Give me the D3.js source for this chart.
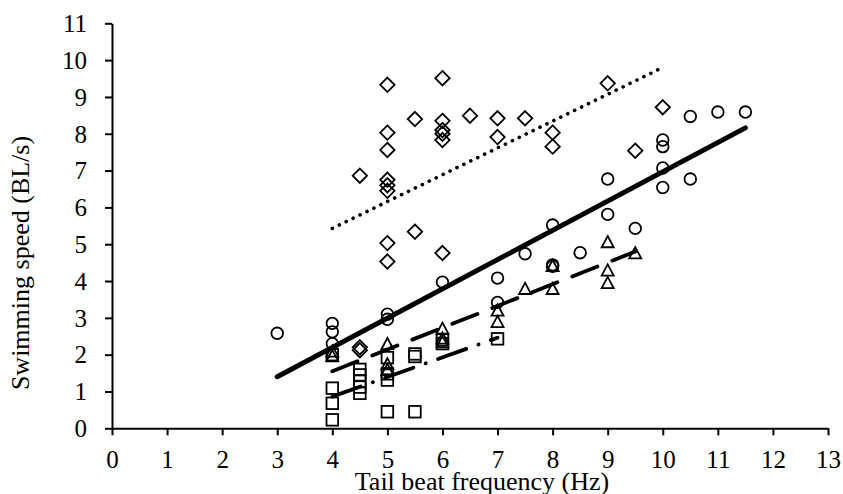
<!DOCTYPE html>
<html>
<head>
<meta charset="utf-8">
<script src="https://cdn.jsdelivr.net/npm/d3@7"></script>
<style>
  html, body { margin: 0; padding: 0; background: #fff; }
  svg { display: block; }
  text { font-family: "Liberation Serif", "Times New Roman", serif; fill: #000; }
</style>
</head>
<body>
<svg id="chart" width="843" height="494"></svg>
<script>
// ---- data ----
const xTicks = [0,1,2,3,4,5,6,7,8,9,10,11,12,13];
const yTicks = [0,1,2,3,4,5,6,7,8,9,10,11];
const xTitle = "Tail beat frequency (Hz)";
const yTitle = "Swimming speed (BL/s)";

const diamonds = [
  [4.5,6.86],[4.5,2.2],[4.5,2.12],
  [5,9.33],[5,8.03],[5,7.56],[5,6.75],[5,6.6],[5,6.45],[5,5.03],[5,4.53],
  [5.5,8.4],[5.5,5.34],
  [6,9.51],[6,8.35],[6,8.1],[6,8.0],[6,7.83],[6,4.76],
  [6.5,8.49],
  [7,8.42],[7,7.91],
  [7.5,8.42],
  [8,8.03],[8,7.65],
  [9,9.37],
  [9.5,7.54],
  [10,8.72]
];
const circles = [
  [3,2.58],
  [4,2.85],[4,2.62],[4,2.3],
  [5,3.1],[5,2.96],
  [6,3.97],
  [7,4.08],[7,3.42],
  [7.5,4.74],
  [8,5.52],[8,4.44],[8,4.4],
  [8.5,4.77],
  [9,6.77],[9,5.81],
  [9.5,5.43],
  [10,7.83],[10,7.65],[10,7.07],[10,6.54],
  [10.5,8.47],[10.5,6.77],
  [11,8.59],
  [11.5,8.59]
];
const triangles = [
  [4,2.1],[4,1.97],
  [5,2.3],[5,1.75],[5,1.6],
  [6,2.72],[6,2.45],[6,2.35],
  [7,3.21],[7,2.9],
  [7.5,3.8],
  [8,3.8],[8,4.42],
  [9,5.07],[9,4.3],[9,3.96],
  [9.5,4.77]
];
const squares = [
  [4,2.0],[4,1.09],[4,0.68],[4,0.23],
  [4.5,1.6],[4.5,1.45],[4.5,1.28],[4.5,1.12],[4.5,0.95],
  [5,1.92],[5,1.48],[5,1.31],[5,0.45],
  [5.5,2.02],[5.5,1.95],[5.5,0.45],
  [6,2.4],[6,2.3],
  [7,2.43]
];
// trend lines (end points)
const diamondTrend  = [[4,5.43],[10,9.8]];
const circleTrend   = [[3,1.4],[11.5,8.16]];
const triangleTrend = [[4,1.55],[9.5,4.8]];
const squareTrend   = [[4,0.86],[7,2.46]];

// ---- layout ----
const svg = d3.select("#chart");
const x = d3.scaleLinear().domain([0,13]).range([112,828]);
const y = d3.scaleLinear().domain([0,11]).range([428.3,23.3]);

// axes
const xAxis = svg.append("g").attr("transform", `translate(0,${y(0)})`)
  .call(d3.axisBottom(x).tickValues(xTicks).tickSize(7).tickSizeOuter(0).tickFormat(d3.format("d")));
const yAxis = svg.append("g").attr("transform", `translate(${x(0)},0)`)
  .call(d3.axisLeft(y).tickValues(yTicks).tickSize(7).tickSizeOuter(0).tickFormat(d3.format("d")));

[xAxis, yAxis].forEach(g => {
  g.select(".domain").attr("stroke", "#000").attr("stroke-width", 2);
  g.selectAll(".tick line").attr("stroke", "#000").attr("stroke-width", 2);
  g.selectAll(".tick text").style("font-family", '"Liberation Serif", serif')
    .style("font-size", "25px").attr("fill", "#000");
});
xAxis.selectAll(".tick text").attr("y", 40).attr("dy", 0);
yAxis.selectAll(".tick text").attr("x", -25).attr("dy", "0.33em");

// titles
svg.append("text").attr("x", 482).attr("y", 490).attr("text-anchor", "middle")
  .style("font-size", "26px").text(xTitle);
svg.append("text").attr("transform", "translate(29,263) rotate(-90)")
  .attr("text-anchor", "middle").style("font-size", "26px").text(yTitle);

// trend lines
const line = d3.line().x(d => x(d[0])).y(d => y(d[1]));
const plot = svg.append("g");
plot.append("path").datum(diamondTrend).attr("d", line)
  .attr("fill", "none").attr("stroke", "#000").attr("stroke-width", 3.6)
  .attr("stroke-linecap", "round").attr("stroke-dasharray", "0.1 7.6");
plot.append("path").datum(circleTrend).attr("d", line)
  .attr("fill", "none").attr("stroke", "#000").attr("stroke-width", 5)
  .attr("stroke-linecap", "round");
plot.append("path").datum(triangleTrend).attr("d", line)
  .attr("fill", "none").attr("stroke", "#000").attr("stroke-width", 3.8)
  .attr("stroke-linecap", "round").attr("stroke-dasharray", "27 16");
plot.append("path").datum(squareTrend).attr("d", line)
  .attr("fill", "none").attr("stroke", "#000").attr("stroke-width", 3.8)
  .attr("stroke-linecap", "round").attr("stroke-dasharray", "30 13 0.1 13");

// markers
const sw = 1.8;
plot.selectAll(".dia").data(diamonds).join("path").attr("class","dia")
  .attr("d", d => { const cx = x(d[0]), cy = y(d[1]), r = 7.2;
    return `M${cx},${cy-r}L${cx+r},${cy}L${cx},${cy+r}L${cx-r},${cy}Z`; })
  .attr("fill", "none").attr("stroke", "#000").attr("stroke-width", sw);
plot.selectAll(".cir").data(circles).join("circle").attr("class","cir")
  .attr("cx", d => x(d[0])).attr("cy", d => y(d[1])).attr("r", 5.8)
  .attr("fill", "none").attr("stroke", "#000").attr("stroke-width", sw);
plot.selectAll(".tri").data(triangles).join("path").attr("class","tri")
  .attr("d", d => { const cx = x(d[0]), cy = y(d[1]), w = 6, h = 5.6;
    return `M${cx},${cy-h}L${cx+w},${cy+h}L${cx-w},${cy+h}Z`; })
  .attr("fill", "none").attr("stroke", "#000").attr("stroke-width", sw);
plot.selectAll(".sq").data(squares).join("rect").attr("class","sq")
  .attr("x", d => x(d[0]) - 5.8).attr("y", d => y(d[1]) - 5.8)
  .attr("width", 11.6).attr("height", 11.6)
  .attr("fill", "none").attr("stroke", "#000").attr("stroke-width", sw);
</script>
</body>
</html>
